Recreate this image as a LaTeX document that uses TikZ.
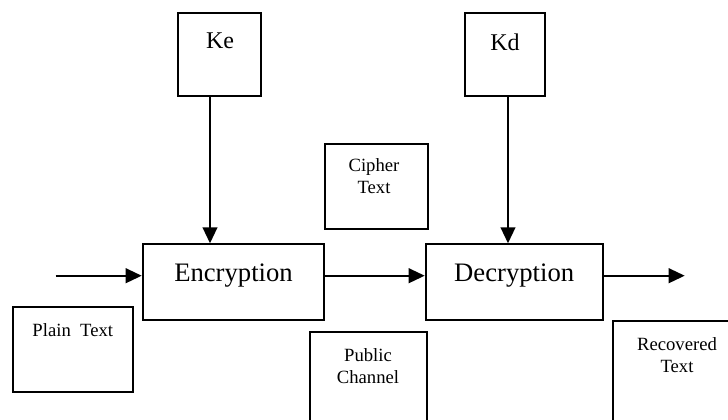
\documentclass[tikz,border=0pt]{standalone}
\usepackage{fontspec}
\setmainfont{Liberation Serif}
\usetikzlibrary{arrows.meta,fit}

\tikzset{
  box/.style={draw, line width=1.5pt, inner sep=0pt, fit={#1}},
  arr/.style={line width=1.5pt, -{Triangle[length=12pt,width=11pt]}},
  big/.style={font=\fontsize{20}{24}\selectfont, inner sep=0pt, anchor=base},
  key/.style={font=\fontsize{18}{22}\selectfont, inner sep=0pt, anchor=base},
  small/.style={font=\fontsize{14}{16.5}\selectfont, inner sep=0pt, anchor=north, align=center},
}

\begin{document}
\begin{tikzpicture}[x=0.75pt, y=-0.75pt]
  \useasboundingbox (0,0) rectangle (728,419);
  \clip (0,0) rectangle (728,419);

  % key boxes
  \node[box={(178,13.3) (261,95.7)}] (ke) {};
  \node[box={(465,13.3) (545,95.7)}] (kd) {};
  \node[key] (keT) at (220,48.5) {Ke};
  \node[key] (kdT) at (505,50) {Kd};

  % processing boxes
  \node[box={(142.7,244.3) (324.3,320)}] (enc) {};
  \node[box={(425.7,244.3) (602.7,320)}] (dec) {};
  \node[big] (encT) at (233.5,281.7) {Encryption};
  \node[big] (decT) at (514.2,281.7) {Decryption};

  % annotation boxes
  \node[box={(325,144) (427.5,229)}] (cip) {};
  \node[small] (cipT) at (374,158.3) {Cipher\\Text};
  \node[box={(12.7,306.7) (133,391.7)}] (pla) {};
  \node[small] (plaT) at (72.8,323.3) {Plain~~Text};
  \node[box={(309.5,331.7) (427.3,450)}] (pub) {};
  \node[small] (pubT) at (368,348.3) {Public\\Channel};
  \node[box={(613,320.7) (780,450)}] (rec) {};
  \node[small] (recT) at (677,337.3) {Recovered\\Text};

  % signal path
  \coordinate (in) at (55.7,275.7);
  \coordinate (out) at (684.7,275.7);
  \coordinate (kex) at (210,0);
  \coordinate (kdx) at (508,0);

  \draw[arr] (in) -- (in -| enc.west);
  \draw[arr] (enc.east |- in) -- (dec.west |- in);
  \draw[arr] (dec.east |- out) -- (out);
  \draw[arr] (ke.south -| kex) -- (enc.north -| kex);
  \draw[arr] (kd.south -| kdx) -- (dec.north -| kdx);
\end{tikzpicture}
\end{document}
